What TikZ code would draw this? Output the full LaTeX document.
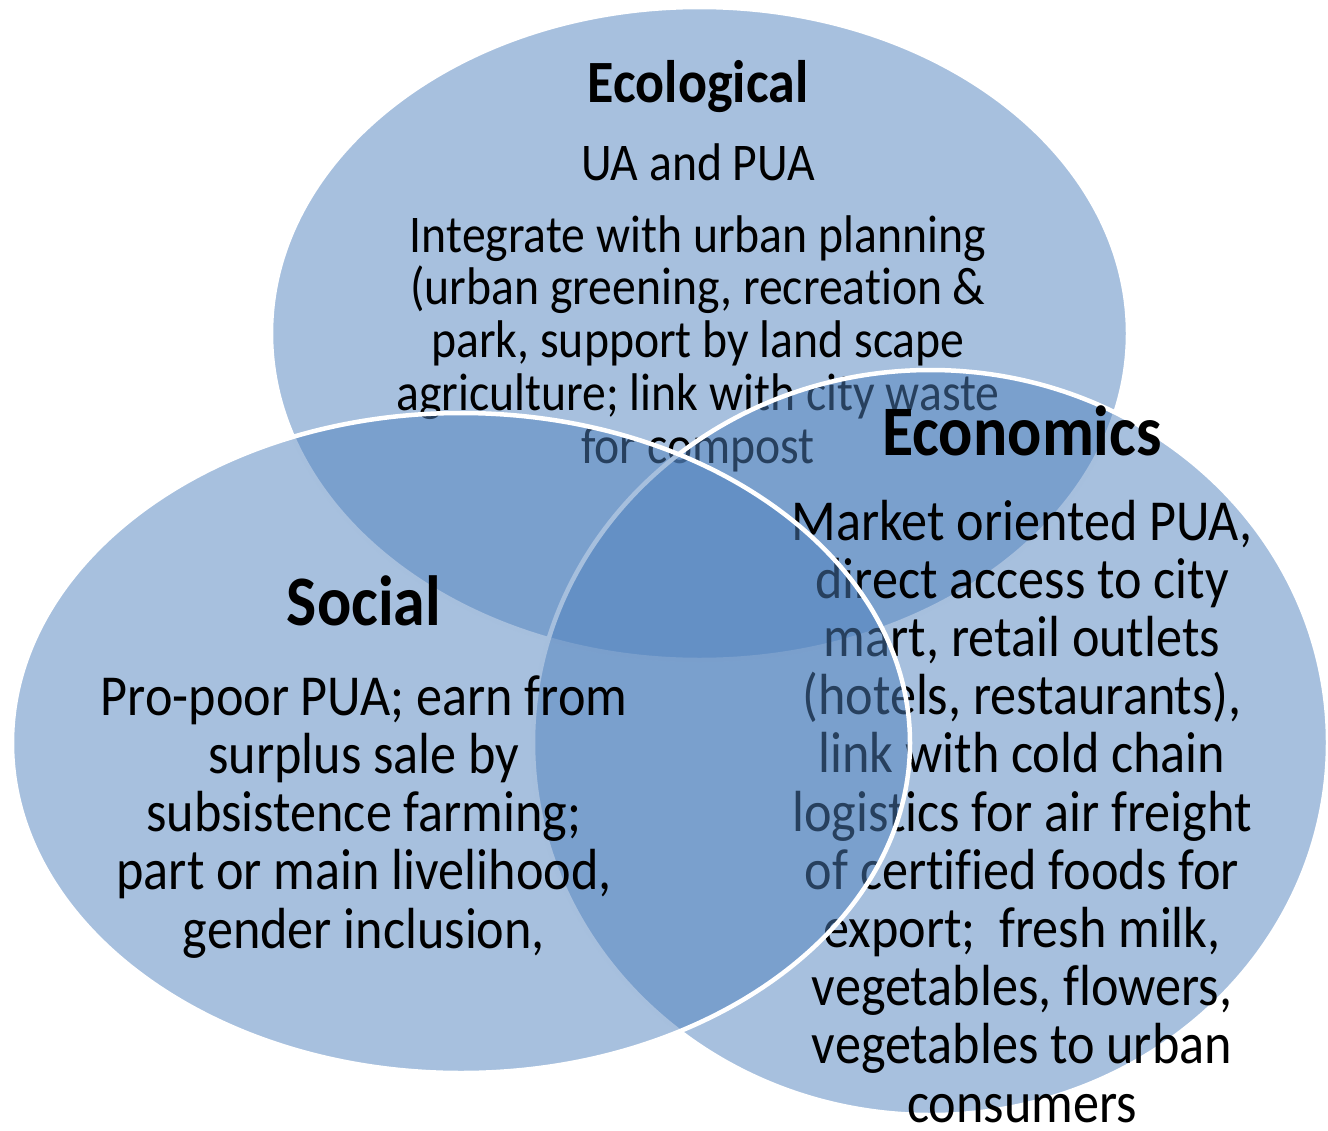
\documentclass[tikz,border=0pt]{standalone}
\usepackage{fontspec}
\setmainfont{Carlito}[FakeStretch=0.9, Ligatures=NoCommon]
\usepackage{xcolor}
\definecolor{setblue}{RGB}{79,129,189}
\tikzset{
    x=1pt, y=-1pt, % one unit is one pixel of the picture, y downwards
    set/.style={ % the three overlapping fields
        draw=white,
        line width=4.5pt,
        fill=setblue,
        fill opacity=0.5
    },
    title/.style={ % field names
        anchor=base,
        inner sep=0pt,
        font=\bfseries\fontsize{60}{62}\selectfont
    },
    bigtitle/.style={
        title,
        font=\bfseries\fontsize{71}{73}\selectfont
    },
    body/.style={ % text inside a field, placed at the baseline of its last line
        anchor=base,
        inner sep=0pt,
        align=center,
        font=\fontsize{58}{58.2}\selectfont
    },
    smallbody/.style={
        body,
        font=\fontsize{53}{52.7}\selectfont
    }
}
\begin{document}
\begin{tikzpicture}
    \useasboundingbox (0,0) rectangle (1328,1130);

    % ecological
    \draw[set] (699.5,333.5) ellipse [x radius=428.5, y radius=326.5];
    \node[title] (ecoT) at (698,102) {Ecological};
    \node[smallbody] (ecoA) at (698,180) {UA and PUA};
    \node[smallbody] (ecoB) at (698,463) {Integrate with urban planning\\(urban greening, recreation \&\\park, support by land scape\\agriculture; link with city waste\\for compost};

    % economics
    \draw[set] (930.5,742.5) ellipse [x radius=397.5, y radius=372.5];
    \node[bigtitle] (econT) at (1022,455) {Economics};
    \node[body] (econB) at (1022,1122) {Market oriented PUA,\\direct access to city\\mart, retail outlets\\(hotels, restaurants),\\link with cold chain\\logistics for air freight\\of certified foods for\\export;~ fresh milk,\\vegetables, flowers,\\vegetables to urban\\consumers};

    % social
    \draw[set] (461,743) ellipse [x radius=449, y radius=330];
    \node[bigtitle] (socT) at (364,625) {Social};
    \node[body] (socB) at (364,948) {Pro-poor PUA; earn from\\surplus sale by\\subsistence farming;\\part or main livelihood,\\gender inclusion,};
\end{tikzpicture}
\end{document}
